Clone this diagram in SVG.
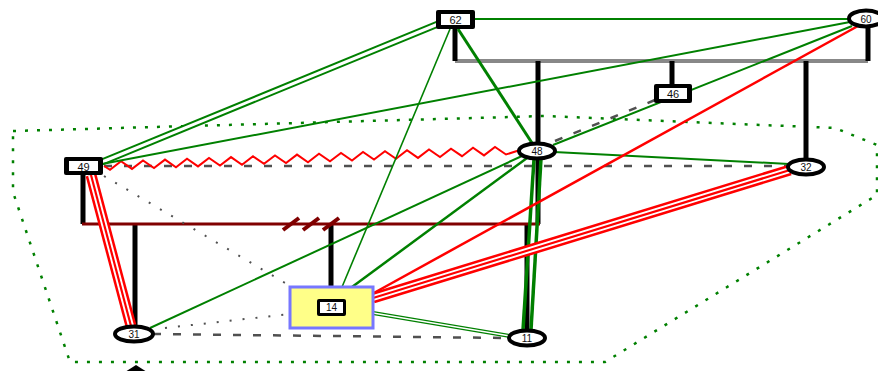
<svg xmlns="http://www.w3.org/2000/svg" width="878" height="371" viewBox="0 0 878 371">
<style>
.lbl{font-family:"Liberation Sans",Arial,sans-serif;font-size:11px;fill:#111;text-anchor:middle;dominant-baseline:central}
.el{font-size:10px}
.g{stroke:#008000;fill:none}
.r{stroke:#ff0000;fill:none}
.w{stroke:#fff;fill:none}
.blk{stroke:#000;stroke-width:5;fill:none}
.dash{stroke:#505050;stroke-width:2.5;stroke-dasharray:8 12;fill:none}
.dot{stroke:#505050;stroke-width:2;stroke-dasharray:2 11;fill:none}
.ell{fill:#fff;stroke:#000;stroke-width:4}
</style>
<rect width="878" height="371" fill="#fff"/>
<polygon points="13,131 545,116 835,128 877,145 877,195 605,362 70,362 13,192" fill="none" stroke="#008000" stroke-width="2.5" stroke-dasharray="3 9"/>
<g id="connectors">
  <line x1="455" y1="61" x2="868" y2="61" stroke="#888" stroke-width="4"/>
  <line class="blk" x1="455" y1="28" x2="455" y2="61"/>
  <line class="blk" x1="868" y1="27" x2="868" y2="61"/>
  <line class="blk" x1="672" y1="61" x2="672" y2="85"/>
  <line class="blk" x1="538" y1="61" x2="538" y2="143"/>
  <line class="blk" x1="806" y1="61" x2="806" y2="158"/>
  <line class="blk" x1="83" y1="175" x2="83" y2="224"/>
  <line class="blk" x1="135" y1="224" x2="135" y2="326"/>
  <line class="blk" x1="331" y1="224" x2="331" y2="287"/>
  <line class="blk" x1="538" y1="159" x2="538" y2="224"/>
  <line class="blk" x1="527" y1="224" x2="527" y2="330"/>
  <line x1="82" y1="224" x2="540" y2="224" stroke="#800000" stroke-width="3"/>
  <g stroke="#800000" stroke-width="4">
    <line x1="283" y1="230" x2="299" y2="218"/>
    <line x1="303" y1="230" x2="319" y2="218"/>
    <line x1="323" y1="230" x2="339" y2="218"/>
  </g>
  <line class="dash" x1="104" y1="166" x2="790" y2="166"/>
  <line class="dash" x1="153" y1="334" x2="508" y2="338"/>
  <line class="dash" x1="555" y1="141" x2="655" y2="100" stroke-width="3"/>
  <line class="dot" x1="104" y1="176" x2="292" y2="287"/>
  <line class="dot" x1="165" y1="328" x2="290" y2="314"/>
  <polyline class="r" stroke-width="2" points="104,166 110,169.8 121,161.3 132,168.9 143,160.5 154,168.1 165,159.6 176,167.2 187,158.8 198,166.4 209,158 220,165.5 231,157.1 242,164.7 253,156.3 264,163.8 275,155.4 286,163 297,154.6 308,162.2 319,153.7 330,161.3 341,152.9 352,160.5 363,152 374,159.6 385,151.2 396,158.8 407,150.3 418,157.9 429,149.5 440,157.1 451,148.7 462,156.2 473,147.8 484,155.4 495,147 506,154.5 520,150"/>
  <line class="g" stroke-width="2" x1="474" y1="19" x2="850" y2="19"/>
  <line class="g" stroke-width="7" x1="438" y1="24" x2="102" y2="162"/>
  <line class="w" stroke-width="3" x1="438" y1="24" x2="102" y2="162"/>
  <line class="g" stroke-width="1.6" x1="450" y1="29" x2="342" y2="287"/>
  <line class="g" stroke-width="3" x1="458" y1="29" x2="532" y2="143"/>
  <line class="g" stroke-width="2" x1="850" y1="22" x2="102" y2="164"/>
  <line class="g" stroke-width="2" x1="852" y1="26" x2="553" y2="145"/>
  <line class="g" stroke-width="2" x1="554" y1="152" x2="789" y2="164"/>
  <line class="g" stroke-width="2" x1="522" y1="156" x2="150" y2="328"/>
  <line class="g" stroke-width="2.5" x1="527" y1="158" x2="352" y2="287"/>
  <line class="g" stroke-width="3.5" x1="534" y1="159" x2="523" y2="330"/>
  <line class="g" stroke-width="3.5" x1="541" y1="159" x2="531" y2="330"/>
  <line class="g" stroke-width="4" x1="373" y1="313" x2="510" y2="336"/>
  <line class="w" stroke-width="1.6" x1="373" y1="313" x2="510" y2="336"/>
  <line class="r" stroke-width="2.5" x1="858" y1="26" x2="372" y2="294"/>
  <line class="r" stroke-width="11" x1="790" y1="170" x2="373" y2="298"/>
  <line class="w" stroke-width="6" x1="790" y1="170" x2="373" y2="298"/>
  <line class="r" stroke-width="2.2" x1="790" y1="170" x2="373" y2="298"/>
  <line class="r" stroke-width="11" x1="91" y1="175" x2="131" y2="326"/>
  <line class="w" stroke-width="6" x1="91" y1="175" x2="131" y2="326"/>
  <line class="r" stroke-width="2.2" x1="91" y1="175" x2="131" y2="326"/>
</g>
<g id="n62"><rect x="436" y="10" width="39" height="19" rx="2" fill="#000"/><rect x="441" y="14" width="29" height="11" fill="#fff"/><text class="lbl" x="455.5" y="20">62</text></g>
<g id="n46"><rect x="654" y="84" width="38" height="19" rx="2" fill="#000"/><rect x="659" y="88" width="28" height="11" fill="#fff"/><text class="lbl" x="673" y="94">46</text></g>
<g id="n49"><rect x="64" y="157" width="39" height="18" rx="2" fill="#000"/><rect x="69" y="161" width="29" height="10" fill="#fff"/><text class="lbl" x="83.5" y="166.5">49</text></g>
<g id="n14"><rect x="290" y="287" width="83" height="41" fill="#ffff88" stroke="#7777ff" stroke-width="3"/><rect x="317" y="299" width="29" height="17" rx="2" fill="#000"/><rect x="320" y="302" width="23" height="11" fill="#fff"/><text class="lbl" x="331.5" y="307.5" style="font-size:10px">14</text></g>
<g id="n60"><ellipse class="ell" cx="866" cy="18.5" rx="17" ry="8"/><text class="lbl el" x="866" y="19">60</text></g>
<g id="n48"><ellipse class="ell" cx="537" cy="151" rx="18" ry="7.5"/><text class="lbl el" x="537" y="151.5">48</text></g>
<g id="n32"><ellipse class="ell" cx="806" cy="167" rx="18" ry="7.5"/><text class="lbl el" x="806" y="167.5">32</text></g>
<g id="n31"><ellipse class="ell" cx="134" cy="334" rx="19" ry="7.5"/><text class="lbl el" x="134" y="334.5">31</text></g>
<g id="n11"><ellipse class="ell" cx="527" cy="338" rx="18" ry="7.5"/><text class="lbl el" x="527" y="338.5">11</text></g>
<polygon points="125,372 136,365 147,372" fill="#000"/>
</svg>
